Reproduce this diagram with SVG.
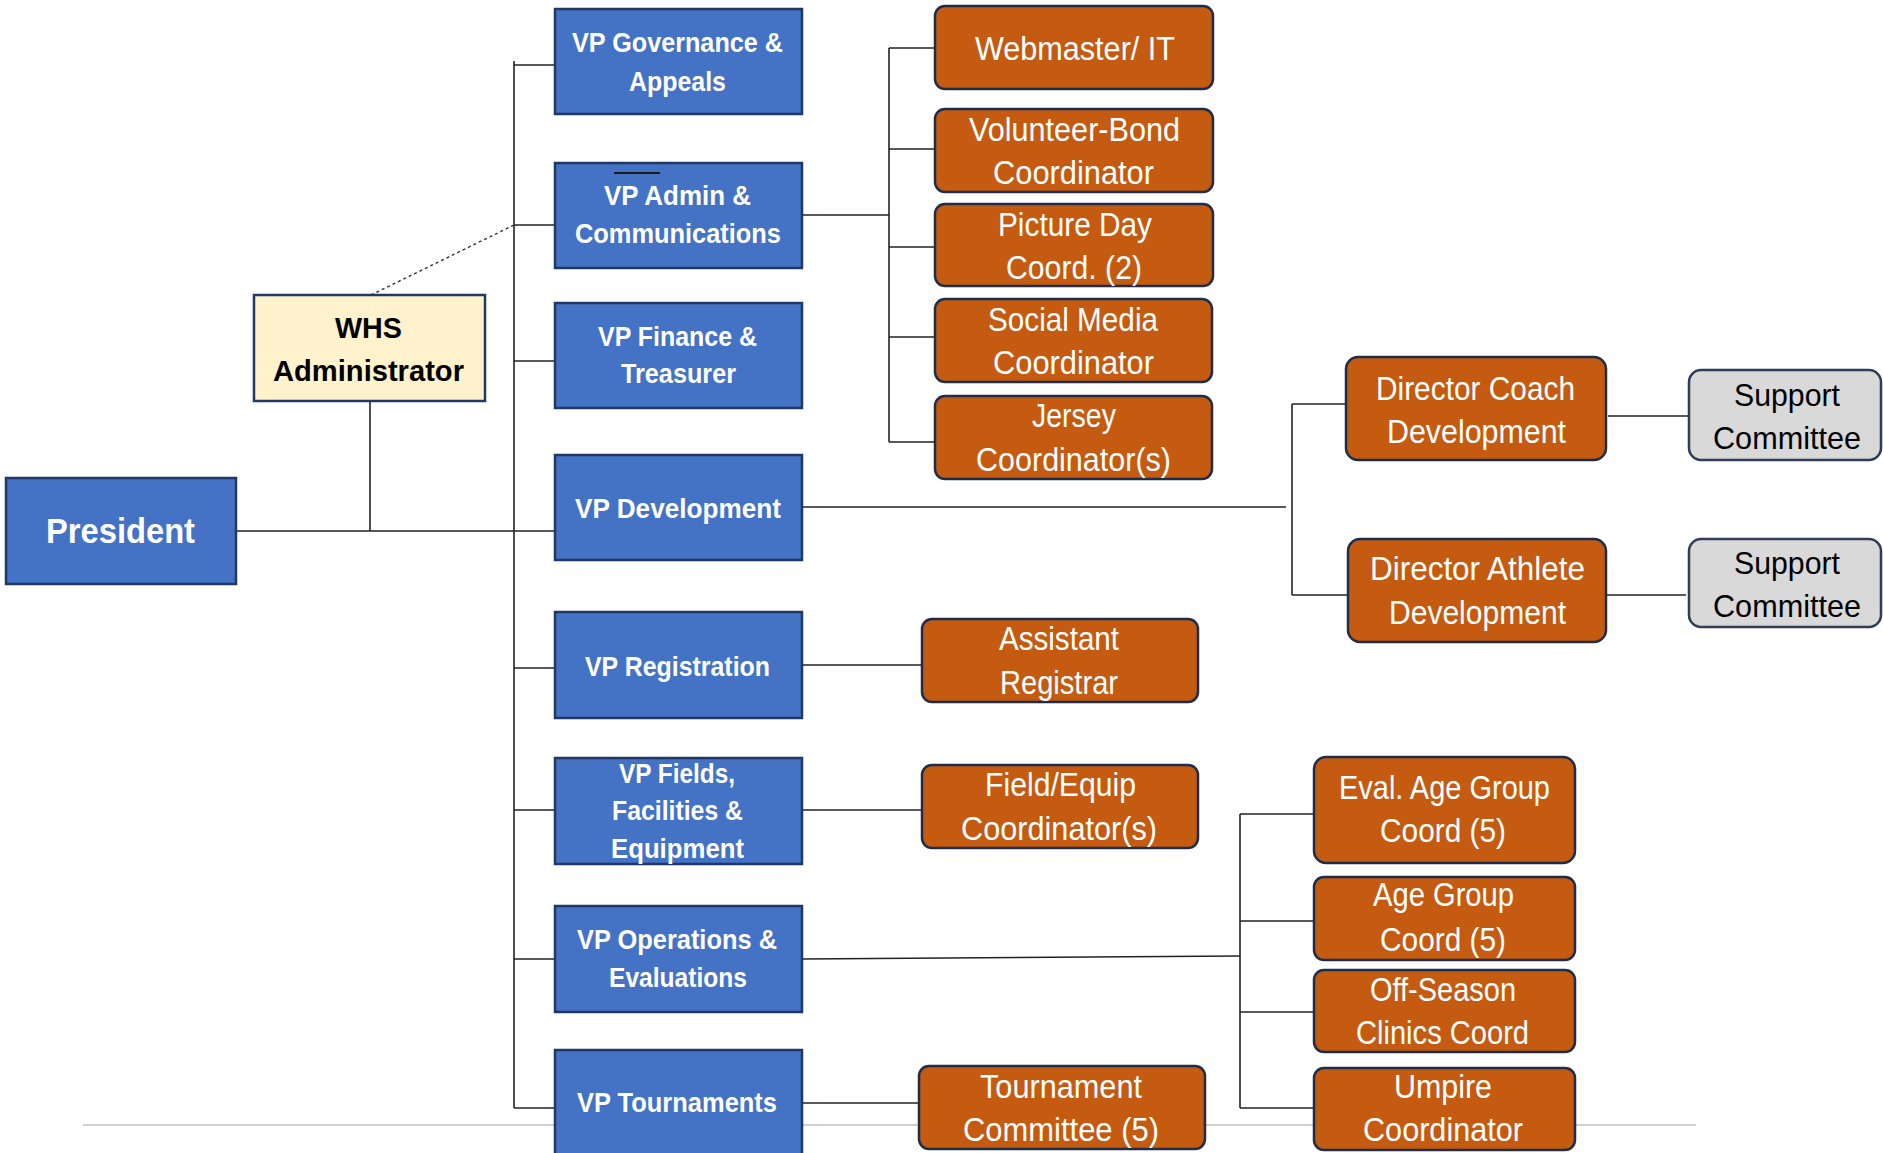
<svg xmlns="http://www.w3.org/2000/svg" width="1883" height="1153" viewBox="0 0 1883 1153">
<style>
.bg{fill:#ffffff}
.blue{fill:#4472C4;stroke:#1F3864;stroke-width:2.5}
.org{fill:#C55A11;stroke:#1F2D4A;stroke-width:2.5}
.gry{fill:#D9D9D9;stroke:#2F3E56;stroke-width:2.5}
.whs{fill:#FFF2CC;stroke:#1F3864;stroke-width:2.5}
.tb{font-family:"Liberation Sans",Arial,sans-serif;font-weight:bold;font-size:28px;fill:#ffffff}
.tp{font-family:"Liberation Sans",Arial,sans-serif;font-weight:bold;font-size:35px;fill:#ffffff}
.tw{font-family:"Liberation Sans",Arial,sans-serif;font-weight:bold;font-size:30px;fill:#000000}
.to{font-family:"Liberation Sans",Arial,sans-serif;font-size:33px;fill:#ffffff}
.ts{font-family:"Liberation Sans",Arial,sans-serif;font-size:32px;fill:#000000}
.ln{stroke:#222222;stroke-width:1.6;fill:none}
.dash{stroke:#333333;stroke-width:1.4;stroke-dasharray:3,3;fill:none}
.rule{stroke:#D0D0D0;stroke-width:2;fill:none}
</style>
<rect class="bg" x="0" y="0" width="1883" height="1153"/>
<line class="rule" x1="83" y1="1125" x2="1696" y2="1125"/>
<g id="connectors">
<line class="ln" x1="514" y1="61" x2="514" y2="1108"/>
<line class="ln" x1="514" y1="65" x2="555" y2="65"/>
<line class="ln" x1="514" y1="225" x2="555" y2="225"/>
<line class="ln" x1="514" y1="361" x2="555" y2="361"/>
<line class="ln" x1="514" y1="668" x2="555" y2="668"/>
<line class="ln" x1="514" y1="810" x2="555" y2="810"/>
<line class="ln" x1="514" y1="959" x2="555" y2="959"/>
<line class="ln" x1="514" y1="1108" x2="555" y2="1108"/>
<line class="ln" x1="236" y1="531" x2="555" y2="531"/>
<line class="ln" x1="370" y1="401" x2="370" y2="531"/>
<line class="dash" x1="371" y1="295" x2="514" y2="225"/>
<line class="ln" x1="802" y1="215" x2="889" y2="215"/>
<line class="ln" x1="889" y1="48" x2="889" y2="442"/>
<line class="ln" x1="889" y1="48" x2="935" y2="48"/>
<line class="ln" x1="889" y1="149" x2="935" y2="149"/>
<line class="ln" x1="889" y1="247" x2="935" y2="247"/>
<line class="ln" x1="889" y1="337" x2="935" y2="337"/>
<line class="ln" x1="889" y1="442" x2="935" y2="442"/>
<line class="ln" x1="802" y1="507" x2="1286" y2="507"/>
<line class="ln" x1="1292" y1="404" x2="1292" y2="595"/>
<line class="ln" x1="1292" y1="404" x2="1346" y2="404"/>
<line class="ln" x1="1292" y1="595" x2="1348" y2="595"/>
<line class="ln" x1="1608" y1="416" x2="1689" y2="416"/>
<line class="ln" x1="1606" y1="595" x2="1686" y2="595"/>
<line class="ln" x1="802" y1="665" x2="922" y2="665"/>
<line class="ln" x1="802" y1="810" x2="922" y2="810"/>
<line class="ln" x1="802" y1="959" x2="1240" y2="956"/>
<line class="ln" x1="1240" y1="814" x2="1240" y2="1108"/>
<line class="ln" x1="1240" y1="814" x2="1314" y2="814"/>
<line class="ln" x1="1240" y1="921" x2="1314" y2="921"/>
<line class="ln" x1="1240" y1="1012" x2="1314" y2="1012"/>
<line class="ln" x1="1240" y1="1108" x2="1314" y2="1108"/>
<line class="ln" x1="802" y1="1103" x2="919" y2="1103"/>
</g>
<g id="president"><rect class="blue" x="6" y="478" width="230" height="106"/><text class="tp" x="46" y="543" textLength="149" lengthAdjust="spacingAndGlyphs">President</text></g>
<g id="whs"><rect class="whs" x="254" y="295" width="231" height="106"/><text class="tw" x="335" y="338" textLength="67" lengthAdjust="spacingAndGlyphs">WHS</text><text class="tw" x="273" y="381" textLength="191" lengthAdjust="spacingAndGlyphs">Administrator</text></g>
<g id="vp-gov"><rect class="blue" x="555" y="9" width="247" height="105"/><text class="tb" x="572" y="52" textLength="211" lengthAdjust="spacingAndGlyphs">VP Governance &amp;</text><text class="tb" x="629" y="91" textLength="97" lengthAdjust="spacingAndGlyphs">Appeals</text></g>
<g id="vp-admin"><rect class="blue" x="555" y="163" width="247" height="105"/><line x1="614" y1="173" x2="660" y2="173" stroke="#1a1a1a" stroke-width="2"/><text class="tb" x="604" y="205" textLength="147" lengthAdjust="spacingAndGlyphs">VP Admin &amp;</text><text class="tb" x="575" y="243" textLength="206" lengthAdjust="spacingAndGlyphs">Communications</text></g>
<g id="vp-finance"><rect class="blue" x="555" y="303" width="247" height="105"/><text class="tb" x="598" y="346" textLength="159" lengthAdjust="spacingAndGlyphs">VP Finance &amp;</text><text class="tb" x="621" y="383" textLength="115" lengthAdjust="spacingAndGlyphs">Treasurer</text></g>
<g id="vp-dev"><rect class="blue" x="555" y="455" width="247" height="105"/><text class="tb" x="575" y="518" textLength="206" lengthAdjust="spacingAndGlyphs">VP Development</text></g>
<g id="vp-reg"><rect class="blue" x="555" y="612" width="247" height="106"/><text class="tb" x="585" y="676" textLength="185" lengthAdjust="spacingAndGlyphs">VP Registration</text></g>
<g id="vp-fields"><rect class="blue" x="555" y="758" width="247" height="106"/><text class="tb" x="619" y="783" textLength="116" lengthAdjust="spacingAndGlyphs">VP Fields,</text><text class="tb" x="612" y="820" textLength="131" lengthAdjust="spacingAndGlyphs">Facilities &amp;</text><text class="tb" x="611" y="858" textLength="133" lengthAdjust="spacingAndGlyphs">Equipment</text></g>
<g id="vp-ops"><rect class="blue" x="555" y="906" width="247" height="106"/><text class="tb" x="577" y="949" textLength="200" lengthAdjust="spacingAndGlyphs">VP Operations &amp;</text><text class="tb" x="609" y="987" textLength="138" lengthAdjust="spacingAndGlyphs">Evaluations</text></g>
<g id="vp-tourn"><rect class="blue" x="555" y="1050" width="247" height="120"/><text class="tb" x="577" y="1112" textLength="200" lengthAdjust="spacingAndGlyphs">VP Tournaments</text></g>
<g id="webmaster"><rect class="org" x="935" y="6" width="278" height="83" rx="10"/><text class="to" x="975" y="60" textLength="200" lengthAdjust="spacingAndGlyphs">Webmaster/ IT</text></g>
<g id="volunteer"><rect class="org" x="935" y="109" width="278" height="83" rx="10"/><text class="to" x="969" y="141" textLength="211" lengthAdjust="spacingAndGlyphs">Volunteer-Bond</text><text class="to" x="993" y="184" textLength="161" lengthAdjust="spacingAndGlyphs">Coordinator</text></g>
<g id="picture"><rect class="org" x="935" y="204" width="278" height="82" rx="10"/><text class="to" x="998" y="236" textLength="154" lengthAdjust="spacingAndGlyphs">Picture Day</text><text class="to" x="1006" y="279" textLength="136" lengthAdjust="spacingAndGlyphs">Coord. (2)</text></g>
<g id="social"><rect class="org" x="935" y="299" width="277" height="83" rx="10"/><text class="to" x="988" y="331" textLength="170" lengthAdjust="spacingAndGlyphs">Social Media</text><text class="to" x="993" y="374" textLength="161" lengthAdjust="spacingAndGlyphs">Coordinator</text></g>
<g id="jersey"><rect class="org" x="935" y="396" width="277" height="83" rx="10"/><text class="to" x="1032" y="427" textLength="84" lengthAdjust="spacingAndGlyphs">Jersey</text><text class="to" x="976" y="471" textLength="195" lengthAdjust="spacingAndGlyphs">Coordinator(s)</text></g>
<g id="dir-coach"><rect class="org" x="1346" y="357" width="260" height="103" rx="12"/><text class="to" x="1376" y="400" textLength="199" lengthAdjust="spacingAndGlyphs">Director Coach</text><text class="to" x="1387" y="443" textLength="179" lengthAdjust="spacingAndGlyphs">Development</text></g>
<g id="dir-athlete"><rect class="org" x="1348" y="539" width="258" height="103" rx="12"/><text class="to" x="1370" y="580" textLength="215" lengthAdjust="spacingAndGlyphs">Director Athlete</text><text class="to" x="1389" y="624" textLength="177" lengthAdjust="spacingAndGlyphs">Development</text></g>
<g id="support1"><rect class="gry" x="1689" y="370" width="192" height="90" rx="12"/><text class="ts" x="1734" y="406" textLength="106" lengthAdjust="spacingAndGlyphs">Support</text><text class="ts" x="1713" y="449" textLength="148" lengthAdjust="spacingAndGlyphs">Committee</text></g>
<g id="support2"><rect class="gry" x="1689" y="539" width="192" height="88" rx="12"/><text class="ts" x="1734" y="574" textLength="106" lengthAdjust="spacingAndGlyphs">Support</text><text class="ts" x="1713" y="617" textLength="148" lengthAdjust="spacingAndGlyphs">Committee</text></g>
<g id="asst-reg"><rect class="org" x="922" y="619" width="276" height="83" rx="10"/><text class="to" x="999" y="650" textLength="120" lengthAdjust="spacingAndGlyphs">Assistant</text><text class="to" x="1000" y="694" textLength="118" lengthAdjust="spacingAndGlyphs">Registrar</text></g>
<g id="field-equip"><rect class="org" x="922" y="765" width="276" height="83" rx="10"/><text class="to" x="985" y="796" textLength="151" lengthAdjust="spacingAndGlyphs">Field/Equip</text><text class="to" x="961" y="840" textLength="196" lengthAdjust="spacingAndGlyphs">Coordinator(s)</text></g>
<g id="tourn-comm"><rect class="org" x="919" y="1066" width="286" height="83" rx="10"/><text class="to" x="980" y="1098" textLength="162" lengthAdjust="spacingAndGlyphs">Tournament</text><text class="to" x="963" y="1141" textLength="196" lengthAdjust="spacingAndGlyphs">Committee (5)</text></g>
<g id="eval-age"><rect class="org" x="1314" y="757" width="261" height="106" rx="12"/><text class="to" x="1339" y="799" textLength="211" lengthAdjust="spacingAndGlyphs">Eval. Age Group</text><text class="to" x="1380" y="842" textLength="126" lengthAdjust="spacingAndGlyphs">Coord (5)</text></g>
<g id="age-group"><rect class="org" x="1314" y="877" width="261" height="83" rx="10"/><text class="to" x="1373" y="906" textLength="141" lengthAdjust="spacingAndGlyphs">Age Group</text><text class="to" x="1380" y="951" textLength="126" lengthAdjust="spacingAndGlyphs">Coord (5)</text></g>
<g id="off-season"><rect class="org" x="1314" y="970" width="261" height="82" rx="10"/><text class="to" x="1370" y="1001" textLength="146" lengthAdjust="spacingAndGlyphs">Off-Season</text><text class="to" x="1356" y="1044" textLength="173" lengthAdjust="spacingAndGlyphs">Clinics Coord</text></g>
<g id="umpire"><rect class="org" x="1314" y="1068" width="261" height="82" rx="10"/><text class="to" x="1394" y="1098" textLength="98" lengthAdjust="spacingAndGlyphs">Umpire</text><text class="to" x="1363" y="1141" textLength="160" lengthAdjust="spacingAndGlyphs">Coordinator</text></g>
</svg>
